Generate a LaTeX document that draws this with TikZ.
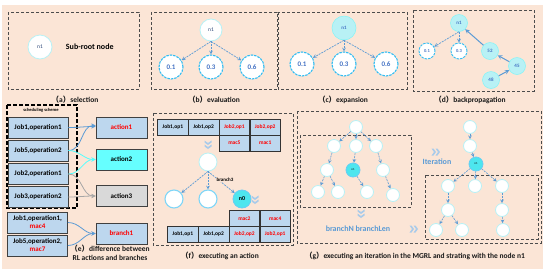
\documentclass[tikz,border=0pt]{standalone}
\usepackage{fontspec}
\setmainfont{Carlito}
\newfontfamily\cjk{Noto Sans CJK SC}
\usetikzlibrary{arrows,calc,matrix,positioning}

\definecolor{bgpeach}{HTML}{FBE5D6}
\definecolor{jobblue}{HTML}{BDD7EE}
\definecolor{arrblue}{HTML}{5B9BD5}
\definecolor{txtblue}{HTML}{4472C4}
\definecolor{lcyan}{HTML}{B8F1F5}
\definecolor{dcyan}{HTML}{4DE6EE}
\definecolor{aqua}{HTML}{66FFFF}
\definecolor{chevblue}{HTML}{A9CBEA}

\newcommand{\subcap}[2]{{\cjk （}#1{\cjk ）}#2}

\tikzset{
  panel/.style={draw=black!70, dash pattern=on 3pt off 2pt, line width=0.8pt},
  scheme/.style={draw=black, dash pattern=on 4pt off 2pt, line width=1.2pt},
  plain/.style={circle, draw=lcyan, line width=0.8pt, fill=white, inner sep=0pt,
    text=txtblue!60!black, font=\fontsize{5.5}{6}\selectfont},
  valnode/.style={circle, draw=cyan!80, dash pattern=on 2.5pt off 1pt, line width=1.1pt,
    fill=white, minimum size=24pt, inner sep=0pt, text=txtblue, font=\bfseries\fontsize{7}{7}\selectfont},
  fullnode/.style={circle, draw=lcyan!70!cyan, line width=0.5pt, fill=lcyan, inner sep=0pt,
    text=txtblue, font=\bfseries\fontsize{5}{5}\selectfont},
  smallnode/.style={circle, draw=lcyan, line width=0.8pt, fill=white, minimum size=13pt, inner sep=0pt},
  hotnode/.style={circle, draw=cyan!60, line width=0.8pt, fill=dcyan, inner sep=0pt},
  link/.style={->, >=stealth, draw=arrblue, dash pattern=on 2pt off 1pt, line width=0.7pt},
  back/.style={->, >=stealth, draw=arrblue, line width=1pt},
  jobbox/.style={draw=black!75, line width=0.9pt, fill=jobblue, minimum width=60pt, minimum height=21pt,
    inner sep=1pt, font=\bfseries\fontsize{7}{8}\selectfont, align=center},
  actbox/.style={jobbox, minimum width=51pt},
  cell/.style={draw=black!80, line width=0.7pt, fill=jobblue, minimum width=30.5pt, minimum height=15.5pt,
    inner sep=0pt, font=\bfseries\fontsize{5.5}{6}\selectfont},
  hot/.style={text=red},
  caption/.style={font=\bfseries\fontsize{7.5}{9}\selectfont, text=black!90, align=center},
  bluelabel/.style={font=\bfseries\fontsize{8}{9}\selectfont, text=arrblue},
  chevron/.pic={
    \foreach \d in {-2,2}
      \fill[chevblue] (\d-2.5,-3.5) -- (\d-0.5,-3.5) -- (\d+2,0) -- (\d-0.5,3.5) -- (\d-2.5,3.5) -- (\d,0) -- cycle;
  },
}

\begin{document}
\begin{tikzpicture}[x=1pt, y=-1pt]
\useasboundingbox (0,0) rectangle (550,269);
\fill[bgpeach] (2,5) rectangle (543,269);

% (a) selection
\draw[panel] (8,12) rectangle (139,89);
\node[plain, minimum size=24pt] (n1a) at (40,47) {n1};
\node[font=\bfseries\fontsize{8}{9}\selectfont, right=10pt of n1a] (subroot) {Sub-root node};
\node[caption] (capa) at (75,100) {\subcap{a}{selection}};

% (b) evaluation
\draw[panel] (151,12) rectangle (277,89);
\node[plain, minimum size=22pt] (n1b) at (211,30) {n1};
\node[valnode] (b1) at (171,67) {0.1};
\node[valnode] (b2) at (211,67) {0.3};
\node[valnode] (b3) at (252,67) {0.6};
\foreach \c in {b1,b2,b3}
  \draw[link] (n1b.south) -- (\c);
\node[caption] (capb) at (214,100) {\subcap{b}{evaluation}};

% (c) expansion
\draw[panel] (278,12) rectangle (407,89);
\node[fullnode, minimum size=24pt] (n1c) at (344,28) {n1};
\node[valnode] (c1) at (302,64) {0.1};
\node[valnode] (c2) at (344,64) {0.3};
\node[valnode] (c3) at (386,64) {0.6};
\foreach \c in {c1,c2,c3}
  \draw[link] (n1c.south) -- (\c);
\node[caption] (capc) at (343,100) {\subcap{c}{expansion}};

% (d) backpropagation
\draw[panel] (413,10) rectangle (534,91);
\node[fullnode, minimum size=17pt] (n1d) at (459,23) {n1};
\node[valnode, minimum size=16pt, line width=0.9pt, font=\bfseries\fontsize{4.5}{5}\selectfont] (d1) at (427,51) {0.1};
\node[valnode, minimum size=16pt, line width=0.9pt, font=\bfseries\fontsize{4.5}{5}\selectfont] (d2) at (459,51) {0.3};
\node[fullnode, minimum size=17pt] (d52) at (490,51) {52};
\node[fullnode, minimum size=17pt] (d45) at (517,66) {45};
\node[fullnode, minimum size=17pt] (d48) at (491,80) {48};
\draw[link] (n1d.south) -- (d1);
\draw[link] (n1d.south) -- (d2);
\draw[back] (d52) -- (n1d.south east);
\draw[back] (d45) -- (d52);
\draw[back] (d48) -- (d45);
\node[caption] (capd) at (470,100) {\subcap{d}{backpropagation}};

% (e) difference between RL actions and branches
\draw[scheme] (7,105) rectangle (77,208);
\node[font=\bfseries\fontsize{4.5}{5}\selectfont] (schemelbl) at (41,110) {scheduling scheme};
\node[jobbox] (j1) at (38,127.5) {Job1,operation1};
\node[jobbox] (j5) at (38,150.5) {Job5,operation2};
\node[jobbox] (j2) at (38,174) {Job2,operation1};
\node[jobbox] (j3) at (38,197) {Job3,operation2};
\node[jobbox] (m4) at (37.5,222.5) {Job1,operation1,\\\textcolor{red}{mac4}};
\node[jobbox] (m7) at (37.5,245.5) {Job5,operation2,\\\textcolor{red}{mac7}};
\node[actbox, text=red] (act1) at (121.5,127.5) {action1};
\node[actbox, fill=aqua] (act2) at (121.5,159.5) {action2};
\node[actbox, fill=black!15] (act3) at (121.5,196) {action3};
\node[actbox, text=red] (br1) at (121.5,233.5) {branch1};
\draw[->, >=stealth, arrblue, line width=0.8pt] (j1.east) to[out=0, in=180] ([yshift=1pt]act1.west);
\draw[->, >=stealth, arrblue, line width=0.8pt] (j5.east) to[out=0, in=180] ([yshift=2pt]act1.west);
\draw[->, >=stealth, aqua!80!cyan, line width=0.8pt] (j5.east) to[out=0, in=180] (act2.west);
\draw[->, >=stealth, aqua!80!cyan, line width=0.8pt] (j2.east) to[out=0, in=180] (act2.west);
\draw[->, >=stealth, black!35, line width=0.8pt] (j2.east) to[out=0, in=180] (act3.west);
\draw[->, >=stealth, black!35, line width=0.8pt] (j3.east) to[out=0, in=180] (act3.west);
\draw[->, >=stealth, arrblue, line width=0.8pt] (m4.east) to[out=0, in=180] (br1.west);
\draw[->, >=stealth, arrblue, line width=0.8pt] (m7.east) to[out=0, in=180] (br1.west);
\node[caption] (cape) at (110,253) {\subcap{e}{difference between}\\RL actions and branches};

% (f) executing an action
\draw[panel] (153,113) rectangle (293,245);
\matrix (topjobs) [matrix of nodes, anchor=north west, inner sep=0pt,
    row sep=-\pgflinewidth, column sep=-\pgflinewidth,
    nodes={cell}] at (157,119)
{
  Job1,op1 & Job1,op2 & |[hot]| Job2,op1 & |[hot]| Job2,op2 \\
           &          & |[hot]| mac5     & |[hot]| mac1     \\
};
\pic[rotate=-90] at (208,145) {chevron};
\node[plain, minimum size=18pt] (froot) at (208,162) {};
\node[plain, draw=cyan!50, line width=1.1pt, minimum size=18pt] (fa) at (174,199) {};
\node[plain, draw=cyan!50, line width=1.1pt, minimum size=18pt] (fb) at (208,199) {};
\node[hotnode, minimum size=18pt, font=\bfseries\fontsize{6}{6}\selectfont] (n0) at (242,199) {n0};
\foreach \c in {fa,fb,n0}
  \draw[link] (froot.south) -- (\c);
\node[font=\bfseries\fontsize{5}{5}\selectfont, fill=bgpeach, inner sep=0.5pt] (br3) at (225,180) {branch3};
\pic[rotate=-90] at (255,200) {chevron};
\matrix (botjobs) [matrix of nodes, anchor=north west, inner sep=0pt,
    row sep=-\pgflinewidth, column sep=-\pgflinewidth,
    nodes={cell}] at (167,210)
{
           &          & |[hot]| mac2     & |[hot]| mac4     \\
  Job1,op1 & Job1,op2 & |[hot]| Job2,op2 & |[hot]| Job2,op1 \\
};
\node[caption] (capf) at (220,256) {\subcap{f}{executing an action}};

% (g) executing an iteration
\draw[panel] (297,111) rectangle (541,243);
\draw[panel] (300,135) rectangle (411,207);
\draw[panel] (425,175) rectangle (538,239);
% tree before the iteration
\node[smallnode] (lr) at (356,127) {};
\node[smallnode] (la) at (334,146) {};
\node[smallnode] (lb) at (356,146) {};
\node[smallnode] (lc) at (376,146) {};
\node[smallnode] (ld) at (327,170) {};
\node[hotnode, minimum size=14pt, font=\fontsize{3}{3}\selectfont] (ln1) at (353,170) {n1};
\node[smallnode] (le) at (383,170) {};
\node[smallnode] (lf) at (318,192) {};
\node[smallnode] (lg) at (338,192) {};
\node[smallnode] (lh) at (367,192) {};
\node[smallnode] (li) at (393,195) {};
\foreach \a/\b in {lr/la, lr/lb, lr/lc, la/ld, lb/ln1, lc/le, ld/lf, ld/lg, ln1/lh, le/li}
  \draw[link, line width=0.6pt] (\a) -- (\b);
% tree after the iteration
\node[smallnode] (ra) at (470,127) {};
\node[smallnode] (rb) at (470,146) {};
\node[hotnode, minimum size=14pt, font=\fontsize{3}{3}\selectfont] (rn1) at (476,164) {n1};
\node[smallnode] (rc) at (448,186) {};
\node[smallnode] (rd) at (475,186) {};
\node[smallnode] (re) at (502,186) {};
\node[smallnode] (rf) at (448,210) {};
\node[smallnode] (rg) at (502,210) {};
\node[smallnode] (rh) at (436,230) {};
\node[smallnode] (ri) at (462,230) {};
\node[smallnode] (rj) at (503,230) {};
\foreach \a/\b in {ra/rb, rb/rn1, rn1/rc, rn1/rd, rn1/re, rc/rf, re/rg, rf/rh, rf/ri, rg/rj}
  \draw[link, line width=0.6pt] (\a) -- (\b);
\pic at (436,152) {chevron};
\node[bluelabel] (iter) at (437,162) {Iteration};
\pic[rotate=-90] at (361,214) {chevron};
\node[bluelabel] (blen) at (358,229) {branchN branchLen};
\pic at (414,229) {chevron};
\node[caption] (capg) at (415,256) {\subcap{g}{executing an iteration in the MGRL and strating with the node n1}};

\end{tikzpicture}
\end{document}
